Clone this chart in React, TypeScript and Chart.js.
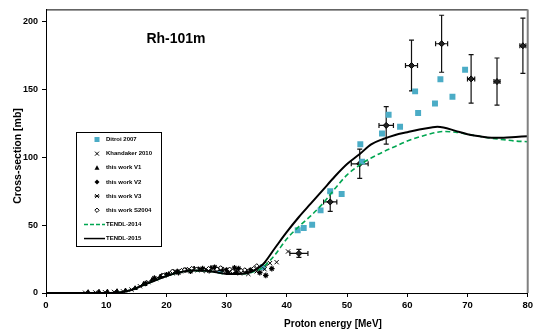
import React, { useEffect, useRef } from "react";
import { Chart, registerables } from "chart.js";

Chart.register(...registerables);

// ---- data ----
const tendlE = [0, 10, 12, 14, 16, 18, 20, 22, 24, 26, 28, 30, 32, 34, 36, 38, 40, 42, 44, 46, 48, 50, 52, 54, 56, 58, 60, 62, 64, 65, 66, 68, 70, 72, 74, 76, 78, 80];
const tendl2015 = [0, 0, 0.3, 2, 5.5, 9, 12.5, 15, 16.5, 16.5, 15.5, 14, 14, 15.5, 21, 33, 45, 56, 66, 76, 86, 95, 102, 109.5, 113.5, 116.5, 118.5, 120.5, 122, 122.5, 122, 119.5, 117, 115.5, 114.5, 114.5, 115, 115.5];
const tendl2014 = [0, 0, 0.3, 2, 5.5, 9, 12.5, 15, 16.5, 16.5, 15.5, 14, 14, 15, 19, 28, 40, 49, 57, 66, 77, 87, 94, 99.5, 104, 108, 112, 115, 117.5, 118.5, 119, 118.5, 117, 115.5, 114, 113, 112, 111.5];

const ditroiE = [28.9, 36.0, 41.8, 42.8, 44.2, 45.6, 47.2, 49.1, 52.2, 52.5, 55.8, 56.9, 58.8, 61.3, 61.8, 64.6, 65.5, 67.5, 69.6];
const ditroiS = [16.5, 19, 46.3, 47.9, 50.3, 60.9, 75, 72.9, 109.6, 96.8, 117.5, 131.4, 122.5, 148.6, 132.6, 139.6, 157.5, 144.6, 164.5];

const khanE = [6.5, 8.2, 9.8, 11.3, 12.8, 14.2, 15.6, 17, 18.3, 19.6, 21, 22.4, 23.8, 25.2, 26.6, 28, 29.4, 30.8, 32.2, 33.6, 35, 36.3, 37.2, 38.3, 40.2];
const khanS = [0.2, 0.4, 0.6, 0.8, 1.2, 2.5, 5, 8, 10.5, 13, 14.5, 16, 17.5, 16.8, 17.5, 17, 16, 15, 14.5, 14, 16, 17.5, 22, 22.7, 30.6];

const v1E = [7, 8.8, 10.2, 11.8, 13.2, 14.8, 16.2, 17.6, 19, 20.4, 21.8, 23.2, 24.6, 26, 27.4, 28.8, 30.2, 31.6, 33, 34.4];
const v1S = [0.6, 0.9, 1, 1.3, 1.8, 3.5, 6.5, 9.5, 12, 14, 16, 16.5, 18, 17, 18.5, 17.5, 16, 15.5, 16.5, 17];

const v2E = [42, 47.2, 52.1, 56.5, 60.7, 65.7, 70.6, 74.9, 79.2];
const v2S = [29.2, 67.1, 95.2, 123.5, 167.6, 183.7, 157.8, 155.8, 182.2];
const v2dE = [1.5, 1.1, 1.4, 1.2, 1.0, 1.0, 0.6, 0.5, 0.5];
const v2dS = [3, 7, 10.8, 13.8, 18.7, 21, 17.8, 17.4, 20.4];

const v3E = [16.5, 18, 19.2, 20, 21.2, 22, 23.1, 24, 25.3, 26, 27.1, 28, 29.2, 30, 31.3, 32, 33.2, 34, 35.5, 36.5, 37.5];
const v3S = [7, 11, 12.5, 13.5, 15.5, 15, 17, 16, 17.5, 18, 16.5, 19, 17.5, 17, 18.5, 18, 16, 17, 15, 13, 18];

const s2004E = [19.5, 21, 22.5, 23, 24.2, 25, 26.3, 27, 28.4, 29, 30.5, 31, 32.4, 33, 34.5, 35, 36.5];
const s2004S = [13, 16, 16.5, 17, 18, 17.5, 16.5, 18, 17.5, 18.5, 17.5, 16, 16.5, 17, 18, 20, 21];

const xTicks = [0, 10, 20, 30, 40, 50, 60, 70, 80];
const yTicks = [0, 50, 100, 150, 200];

const legendLabels = ["Ditroi 2007", "Khandaker 2010", "this work V1", "this work V2", "this work V3", "this work S2004", "TENDL-2014", "TENDL-2015"];

const FONT = '"Liberation Sans", Arial, sans-serif';
const BLUE = "#4bacc6";
const GREEN = "#00a651";

const pts = (xs: number[], ys: number[]) => xs.map((x, i) => ({ x, y: ys[i] }));

function drawMarker(ctx: CanvasRenderingContext2D, kind: string, x: number, y: number) {
  ctx.save();
  ctx.lineWidth = 1;
  ctx.strokeStyle = "#000";
  ctx.fillStyle = "#000";
  if (kind === "square") {
    ctx.fillStyle = BLUE;
    ctx.fillRect(x - 2.5, y - 2.5, 5, 5);
  } else if (kind === "x") {
    ctx.beginPath();
    ctx.moveTo(x - 2, y - 2); ctx.lineTo(x + 2, y + 2);
    ctx.moveTo(x + 2, y - 2); ctx.lineTo(x - 2, y + 2);
    ctx.stroke();
  } else if (kind === "tri") {
    ctx.beginPath();
    ctx.moveTo(x, y - 2.5); ctx.lineTo(x + 2.5, y + 2); ctx.lineTo(x - 2.5, y + 2); ctx.closePath();
    ctx.fill();
  } else if (kind === "diamond") {
    ctx.beginPath();
    ctx.moveTo(x, y - 2.5); ctx.lineTo(x + 2.5, y); ctx.lineTo(x, y + 2.5); ctx.lineTo(x - 2.5, y); ctx.closePath();
    ctx.fill();
  } else if (kind === "star") {
    ctx.beginPath();
    ctx.moveTo(x - 2, y - 2); ctx.lineTo(x + 2, y + 2);
    ctx.moveTo(x + 2, y - 2); ctx.lineTo(x - 2, y + 2);
    ctx.moveTo(x - 2.5, y); ctx.lineTo(x + 2.5, y);
    ctx.stroke();
  } else if (kind === "open") {
    ctx.beginPath();
    ctx.moveTo(x, y - 2.2); ctx.lineTo(x + 2.2, y); ctx.lineTo(x, y + 2.2); ctx.lineTo(x - 2.2, y); ctx.closePath();
    ctx.fillStyle = "#fff";
    ctx.fill();
    ctx.stroke();
  }
  ctx.restore();
}

const errorBarPlugin = {
  id: "errorBars",
  beforeDatasetsDraw(chart: any) {
    const { ctx, scales } = chart;
    const xs = scales.x, ys = scales.y;
    ctx.save();
    ctx.strokeStyle = "#111";
    ctx.lineWidth = 1.2;
    const cap = 2.5;
    v2E.forEach((e, i) => {
      const px = xs.getPixelForValue(e);
      const py = ys.getPixelForValue(v2S[i]);
      const xl = xs.getPixelForValue(e - v2dE[i]);
      const xr = xs.getPixelForValue(e + v2dE[i]);
      const yt = ys.getPixelForValue(v2S[i] + v2dS[i]);
      const yb = ys.getPixelForValue(v2S[i] - v2dS[i]);
      ctx.beginPath();
      ctx.moveTo(xl, py); ctx.lineTo(xr, py);
      ctx.moveTo(xl, py - cap); ctx.lineTo(xl, py + cap);
      ctx.moveTo(xr, py - cap); ctx.lineTo(xr, py + cap);
      ctx.moveTo(px, yt); ctx.lineTo(px, yb);
      ctx.moveTo(px - cap, yt); ctx.lineTo(px + cap, yt);
      ctx.moveTo(px - cap, yb); ctx.lineTo(px + cap, yb);
      ctx.stroke();
    });
    ctx.restore();
  },
};

const decorPlugin = {
  id: "decor",
  afterDraw(chart: any) {
    const { ctx, chartArea } = chart;
    ctx.save();
    // frame top & right
    ctx.strokeStyle = "#000";
    ctx.lineWidth = 1;
    ctx.beginPath();
    ctx.moveTo(chartArea.left, chartArea.top + 0.5);
    ctx.lineTo(chartArea.right, chartArea.top + 0.5);
    ctx.stroke();
    ctx.strokeStyle = "#808080";
    ctx.lineWidth = 2;
    ctx.beginPath();
    ctx.moveTo(chartArea.right, chartArea.top);
    ctx.lineTo(chartArea.right, chartArea.bottom);
    ctx.stroke();

    // title
    ctx.fillStyle = "#000";
    ctx.font = `bold 14px ${FONT}`;
    ctx.textAlign = "center";
    ctx.textBaseline = "middle";
    ctx.fillText("Rh-101m", 176, 39);

    // axis titles
    ctx.font = `bold 10px ${FONT}`;
    ctx.fillText("Proton energy [MeV]", 333, 324);
    ctx.save();
    ctx.translate(18, 156);
    ctx.rotate(-Math.PI / 2);
    ctx.font = `bold 10.5px ${FONT}`;
    ctx.fillText("Cross-section [mb]", 0, 0);
    ctx.restore();

    // legend
    const bx = 76, by = 132, bw = 85, bh = 114;
    ctx.fillStyle = "#fff";
    ctx.fillRect(bx, by, bw, bh);
    ctx.strokeStyle = "#000";
    ctx.lineWidth = 1;
    ctx.strokeRect(bx + 0.5, by + 0.5, bw, bh);
    const kinds = ["square", "x", "tri", "diamond", "star", "open", "dash", "solid"];
    kinds.forEach((k, i) => {
      const yy = 139.5 + i * 14.15;
      if (k === "dash") {
        ctx.save();
        ctx.strokeStyle = GREEN;
        ctx.lineWidth = 1.5;
        ctx.setLineDash([4, 2]);
        ctx.beginPath();
        ctx.moveTo(84, yy); ctx.lineTo(105, yy);
        ctx.stroke();
        ctx.restore();
      } else if (k === "solid") {
        ctx.save();
        ctx.strokeStyle = "#000";
        ctx.lineWidth = 1.5;
        ctx.beginPath();
        ctx.moveTo(84, yy); ctx.lineTo(105, yy);
        ctx.stroke();
        ctx.restore();
      } else {
        drawMarker(ctx, k, 97, yy);
      }
      ctx.fillStyle = "#000";
      ctx.font = `bold 6px ${FONT}`;
      ctx.textAlign = "left";
      ctx.textBaseline = "middle";
      ctx.fillText(legendLabels[i], 106, yy);
    });
    ctx.restore();
  },
};

export default function App() {
  const ref = useRef<HTMLCanvasElement | null>(null);

  useEffect(() => {
    if (!ref.current) return;
    const chart = new Chart(ref.current, {
      type: "scatter",
      data: {
        datasets: [
          {
            type: "line",
            label: "TENDL-2015",
            data: pts(tendlE, tendl2015),
            borderColor: "#000",
            borderWidth: 2,
            pointRadius: 0,
            cubicInterpolationMode: "monotone",
            fill: false,
          } as any,
          {
            type: "line",
            label: "TENDL-2014",
            data: pts(tendlE, tendl2014),
            borderColor: GREEN,
            borderWidth: 1.6,
            borderDash: [5, 3],
            pointRadius: 0,
            cubicInterpolationMode: "monotone",
            fill: false,
          } as any,
          {
            label: "this work S2004",
            data: pts(s2004E, s2004S),
            pointStyle: "rectRot",
            pointRadius: 2.2,
            backgroundColor: "#fff",
            borderColor: "#000",
            borderWidth: 1,
          },
          {
            label: "this work V1",
            data: pts(v1E, v1S),
            pointStyle: "triangle",
            pointRadius: 2.5,
            backgroundColor: "#000",
            borderColor: "#000",
            borderWidth: 1,
          },
          {
            label: "this work V3",
            data: pts(v3E, v3S),
            pointStyle: "star",
            pointRadius: 2.8,
            backgroundColor: "#000",
            borderColor: "#000",
            borderWidth: 1.2,
          },
          {
            label: "Khandaker 2010",
            data: pts(khanE, khanS),
            pointStyle: "crossRot",
            pointRadius: 3,
            backgroundColor: "#000",
            borderColor: "#000",
            borderWidth: 1,
          },
          {
            label: "Ditroi 2007",
            data: pts(ditroiE, ditroiS),
            pointStyle: "rect",
            pointRadius: 4.2,
            backgroundColor: BLUE,
            borderColor: BLUE,
            borderWidth: 0,
          },
          {
            label: "this work V2",
            data: pts(v2E, v2S),
            pointStyle: "rectRot",
            pointRadius: 3,
            backgroundColor: "#222",
            borderColor: "#000",
            borderWidth: 1,
          },
        ],
      },
      options: {
        animation: false,
        responsive: false,
        devicePixelRatio: 1,
        layout: { padding: { top: 3, right: 7, left: 0, bottom: 0 } },
        plugins: { legend: { display: false }, tooltip: { enabled: false } },
        scales: {
          x: {
            type: "linear",
            min: 0,
            max: 80,
            afterFit: (s: any) => { s.height = 42; },
            afterBuildTicks: (s: any) => { s.ticks = xTicks.map((v) => ({ value: v })); },
            ticks: { font: { family: FONT, size: 9.5, weight: "bold" }, color: "#000", padding: 3, maxRotation: 0 },
            grid: { drawOnChartArea: false, tickLength: 4, color: "#000" },
            border: { color: "#000", width: 1 },
          },
          y: {
            type: "linear",
            min: 0,
            max: 209,
            afterFit: (s: any) => { s.width = 46; },
            afterBuildTicks: (s: any) => { s.ticks = yTicks.map((v) => ({ value: v })); },
            ticks: { font: { family: FONT, size: 9, weight: "bold" }, color: "#000", padding: 4 },
            grid: { drawOnChartArea: false, tickLength: 4, color: "#000" },
            border: { color: "#000", width: 1 },
          },
        },
      },
      plugins: [errorBarPlugin, decorPlugin],
    });
    return () => chart.destroy();
  }, []);

  return (
    <div style={{ position: "fixed", left: 0, top: 0, width: 536, height: 335, background: "#fff" }}>
      <canvas ref={ref} width={536} height={335} />
    </div>
  );
}
